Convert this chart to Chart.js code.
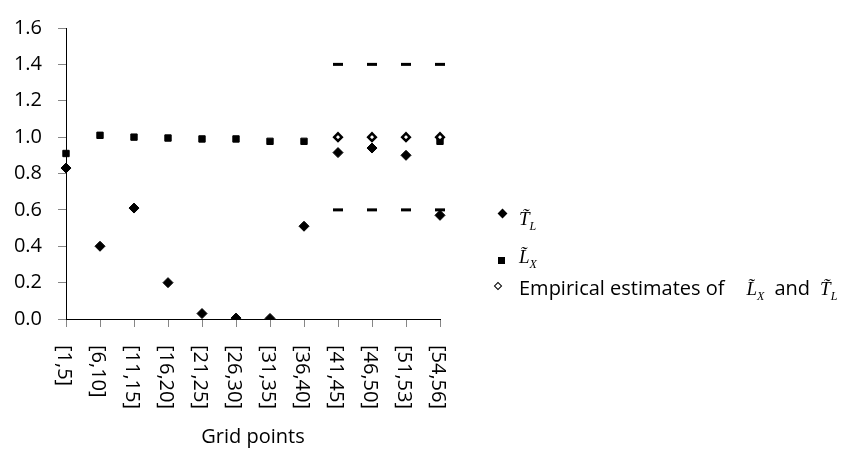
<!DOCTYPE html>
<html>
<head>
<meta charset="utf-8">
<script src="https://cdn.jsdelivr.net/npm/chart.js@4"></script>
<style>
  body { margin: 0; background: #fff; }
  #wrap { position: relative; width: 841px; height: 456px; }
  #legend { position: absolute; left: 0; top: 0; font-family: "Open Sans", sans-serif; color: #000; }
  .mk { position: absolute; box-sizing: border-box; }
  .row { position: absolute; white-space: nowrap; line-height: 24px; font-size: 20px; }
  .m { font-family: "Liberation Serif", serif; font-style: italic; font-size: 19px; }
  .m sub { font-size: 12px; vertical-align: -5px; }
  .row3 .m1 { margin: 0 10px 0 22px; }
  .row3 .m2 { margin: 0 0 0 10px; }
</style>
</head>
<body>
<div id="wrap">
  <canvas id="chart"></canvas>
  <div id="legend"></div>
</div>
<script>
// categorias del eje x
const categories = ["[1,5]", "[6,10]", "[11,15]", "[16,20]", "[21,25]", "[26,30]",
                    "[31,35]", "[36,40]", "[41,45]", "[46,50]", "[51,53]", "[54,56]"];

// valores de las series
const tildeT = [0.83, 0.40, 0.61, 0.20, 0.03, 0.005, 0.003, 0.51, 0.915, 0.94, 0.90, 0.57];
const tildeL = [0.91, 1.01, 1.0, 0.995, 0.99, 0.99, 0.977, 0.977, null, null, null, 0.977];
const empirical = [null, null, null, null, null, null, null, null, 1.0, 1.0, 1.0, 1.0];
const upperBound = [null, null, null, null, null, null, null, null, 1.4, 1.4, 1.4, 1.4];
const lowerBound = [null, null, null, null, null, null, null, null, 0.6, 0.6, 0.6, 0.6];

// eje y
const yTicks = [0, 0.2, 0.4, 0.6, 0.8, 1.0, 1.2, 1.4, 1.6];

const FONT = '"Open Sans", sans-serif';

// etiquetas del eje x giradas en sentido horario
const verticalLabels = {
    id: "verticalLabels",
    afterDraw(chart) {
        const xs = chart.scales.x;
        const ctx = chart.ctx;
        ctx.save();
        ctx.font = "20px " + FONT;
        ctx.fillStyle = "#000";
        ctx.textAlign = "left";
        ctx.textBaseline = "middle";
        categories.forEach((c, i) => {
            const x = xs.getPixelForValue(i);
            ctx.save();
            ctx.translate(x - 2, xs.top + 26);
            ctx.rotate(Math.PI / 2);
            ctx.fillText(c, 0, 0);
            ctx.restore();
        });
        ctx.restore();
    }
};

const pts = (data, style, radius, fill, bw) => ({
    data,
    showLine: false,
    pointStyle: style,
    pointRadius: radius,
    pointHoverRadius: radius,
    pointBackgroundColor: fill,
    pointBorderColor: "#000",
    pointBorderWidth: bw,
    borderColor: "#000",
    backgroundColor: fill,
});

new Chart(document.getElementById("chart"), {
    type: "line",
    data: {
        labels: categories,
        datasets: [
            { label: "T_L", ...pts(tildeT, "rectRot", 5, "#000", 1) },
            { label: "Empirical", ...pts(empirical, "rectRot", 3.8, "#fff", 2.5) },
            { label: "L_X", ...pts(tildeL, "rect", 4.5, "#000", 1) },
            { label: "upper", ...pts(upperBound, "line", 5, "#000", 3) },
            { label: "lower", ...pts(lowerBound, "line", 5, "#000", 3) },
        ],
    },
    options: {
        responsive: true,
        maintainAspectRatio: false,
        animation: false,
        layout: { padding: { left: 0, top: 20, right: 401, bottom: 0 } },
        plugins: { legend: { display: false }, tooltip: { enabled: false } },
        scales: {
            x: {
                offset: false,
                grid: { display: true, drawOnChartArea: false, tickLength: 8, color: "#868686" },
                border: { color: "#000", width: 1 },
                ticks: { color: "transparent", autoSkip: false, minRotation: 90, maxRotation: 90,
                         font: { family: FONT, size: 20 } },
                title: { display: true, text: "Grid points", color: "#000",
                         font: { family: FONT, size: 20 }, padding: { top: 4, bottom: 7 } },
                afterFit: (s) => { s.height = 137; },
            },
            y: {
                min: 0,
                max: 1.6,
                afterBuildTicks: (s) => { s.ticks = yTicks.map(v => ({ value: v })); },
                grid: { display: true, drawOnChartArea: false, tickLength: 8, color: "#868686" },
                border: { color: "#000", width: 1 },
                ticks: { color: "#000", padding: 16, font: { family: FONT, size: 20 },
                         callback: (v) => Number(v).toFixed(1) },
                afterFit: (s) => { s.width = 66; },
            },
        },
    },
    plugins: [verticalLabels],
});

// leyenda
const legendMarkers = [
    { x: 502, y: 213, size: 7, rot: 45, bg: "#000", border: 0 },
    { x: 501, y: 260, size: 7, rot: 0, bg: "#000", border: 0 },
    { x: 498, y: 286, size: 6, rot: 45, bg: "#fff", border: 1.5 },
];
const legendTexts = [
    { x: 519, y: 206, cls: "row", html: '<span class="m">T\u0303<sub>L</sub></span>' },
    { x: 519, y: 244, cls: "row", html: '<span class="m">L\u0303<sub>X</sub></span>' },
    { x: 519, y: 276, cls: "row row3", html: 'Empirical estimates of<span class="m m1">L\u0303<sub>X</sub></span>and<span class="m m2">T\u0303<sub>L</sub></span>' },
];
const legend = document.getElementById("legend");
legendMarkers.forEach(m => {
    const d = document.createElement("span");
    d.className = "mk";
    d.style.left = (m.x - m.size / 2) + "px";
    d.style.top = (m.y - m.size / 2) + "px";
    d.style.width = m.size + "px";
    d.style.height = m.size + "px";
    d.style.background = m.bg;
    d.style.border = m.border + "px solid #000";
    d.style.transform = "rotate(" + m.rot + "deg)";
    legend.appendChild(d);
});
legendTexts.forEach(t => {
    const d = document.createElement("div");
    d.className = t.cls;
    d.style.left = t.x + "px";
    d.style.top = t.y + "px";
    d.innerHTML = t.html;
    legend.appendChild(d);
});
</script>
</body>
</html>
